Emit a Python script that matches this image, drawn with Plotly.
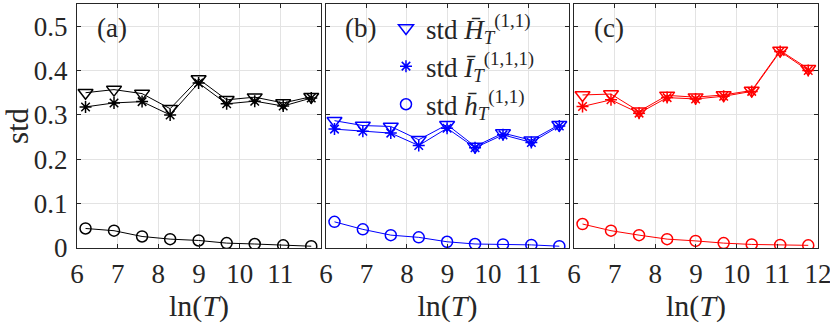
import plotly.graph_objects as go

# ln(T) positions shared by all three panels
lnT = [6.21, 6.91, 7.60, 8.29, 8.99, 9.68, 10.37, 11.07, 11.76]

# panel (a)
H_a = [0.350, 0.357, 0.348, 0.314, 0.381, 0.334, 0.340, 0.327, 0.341]
I_a = [0.318, 0.327, 0.330, 0.300, 0.372, 0.325, 0.331, 0.320, 0.338]
h_a = [0.044, 0.039, 0.026, 0.020, 0.017, 0.011, 0.009, 0.006, 0.004]

# panel (b)
H_b = [0.287, 0.276, 0.274, 0.244, 0.278, 0.229, 0.259, 0.243, 0.278]
I_b = [0.268, 0.263, 0.259, 0.231, 0.270, 0.226, 0.255, 0.238, 0.275]
h_b = [0.059, 0.042, 0.029, 0.024, 0.014, 0.009, 0.008, 0.007, 0.004]

# panel (c)
H_c = [0.345, 0.347, 0.308, 0.344, 0.340, 0.345, 0.355, 0.445, 0.404]
I_c = [0.319, 0.334, 0.304, 0.339, 0.336, 0.342, 0.353, 0.443, 0.400]
h_c = [0.054, 0.039, 0.029, 0.020, 0.016, 0.011, 0.008, 0.007, 0.006]

y_ticks = [0, 0.1, 0.2, 0.3, 0.4, 0.5]
x_ticks_ab = [6, 7, 8, 9, 10, 11]
x_ticks_c = [6, 7, 8, 9, 10, 11, 12]
panel_tags = ['(a)', '(b)', '(c)']

leg_names = [
    'std <i>H\u0304</i><sub><i>T</i></sub><sup>(1,1)</sup>',
    'std <i>\u012a</i><sub><i>T</i></sub><sup>(1,1,1)</sup>',
    'std <i>h\u0304</i><sub><i>T</i></sub><sup>(1,1)</sup>',
]

FONT = 'Liberation Serif, Times New Roman, serif'
AX = '#262626'
GRID = '#e3e3e3'

panels = [
    ('x', 'y', 'black', H_a, I_a, h_a),
    ('x2', 'y2', 'blue', H_b, I_b, h_b),
    ('x3', 'y3', 'red', H_c, I_c, h_c),
]

fig = go.Figure()

for xa, ya, col, H, I, h in panels:
    fig.add_trace(go.Scatter(x=lnT, y=H, xaxis=xa, yaxis=ya, mode='lines+markers',
                             line=dict(color=col, width=1),
                             marker=dict(symbol='triangle-down-open', size=13,
                                         color=col, line=dict(width=1.5, color=col)),
                             showlegend=False))
    fig.add_trace(go.Scatter(x=lnT, y=I, xaxis=xa, yaxis=ya, mode='lines+markers',
                             line=dict(color=col, width=1),
                             marker=dict(symbol='asterisk-open', size=10,
                                         color=col, line=dict(width=1.5, color=col)),
                             showlegend=False))
    fig.add_trace(go.Scatter(x=lnT, y=h, xaxis=xa, yaxis=ya, mode='lines+markers',
                             line=dict(color=col, width=1),
                             marker=dict(symbol='circle-open', size=11,
                                         color=col, line=dict(width=1.5, color=col)),
                             showlegend=False))

# legend entries (markers only, like the original)
for name, sym, sz in zip(leg_names, ['triangle-down-open', 'asterisk-open', 'circle-open'], [13, 10, 11]):
    fig.add_trace(go.Scatter(x=[None], y=[None], xaxis='x2', yaxis='y2', mode='markers',
                             marker=dict(symbol=sym, size=sz, color='blue',
                                         line=dict(width=1.5, color='blue')),
                             name=name, showlegend=True))

domains = [[0, 0.3293], [0.336, 0.664], [0.6707, 1]]

axis_common = dict(showline=True, linecolor=AX, linewidth=1, mirror='ticks',
                   ticks='inside', ticklen=4, tickcolor=AX, showgrid=True,
                   gridcolor=GRID, gridwidth=1, zeroline=False, automargin=False,
                   tickfont=dict(family=FONT, size=27, color=AX))

layout = dict(width=830, height=323, plot_bgcolor='white', paper_bgcolor='white',
              margin=dict(l=77, r=12, t=4, b=75),
              font=dict(family=FONT, color=AX),
              legend=dict(x=0.417, y=1.0, xanchor='left', yanchor='top',
                          bgcolor='rgba(0,0,0,0)', font=dict(family=FONT, size=27, color=AX),
                          tracegroupgap=0, itemwidth=30))

for i, key in enumerate(['', '2', '3']):
    ticks = x_ticks_c if i == 2 else x_ticks_ab
    layout['xaxis' + key] = dict(axis_common, domain=domains[i], range=[6, 12],
                                 tickvals=ticks, anchor='y' + key, ticklabelstandoff=2,
                                 ticklabeloverflow='allow',
                                 title=dict(text='ln(<i>T</i>)', standoff=0,
                                            font=dict(family=FONT, size=30, color=AX)))
    layout['yaxis' + key] = dict(axis_common, range=[0, 0.55], tickvals=y_ticks,
                                 anchor='x' + key, showticklabels=(i == 0),
                                 ticklabelstandoff=3)

layout['yaxis']['title'] = dict(text='std', standoff=4, font=dict(family=FONT, size=31, color=AX))

fig.update_layout(**layout)

for i, key in enumerate(['', '2', '3']):
    fig.add_annotation(x=6.85, y=0.495, xref='x' + key, yref='y' + key,
                       text=panel_tags[i], showarrow=False,
                       font=dict(family=FONT, size=27, color=AX))

# the page body has a default 8px margin; drop it so the figure sits at the corner
fig.write_html('out.html', config={'displayModeBar': False},
               post_script="document.body.style.margin='0';")
